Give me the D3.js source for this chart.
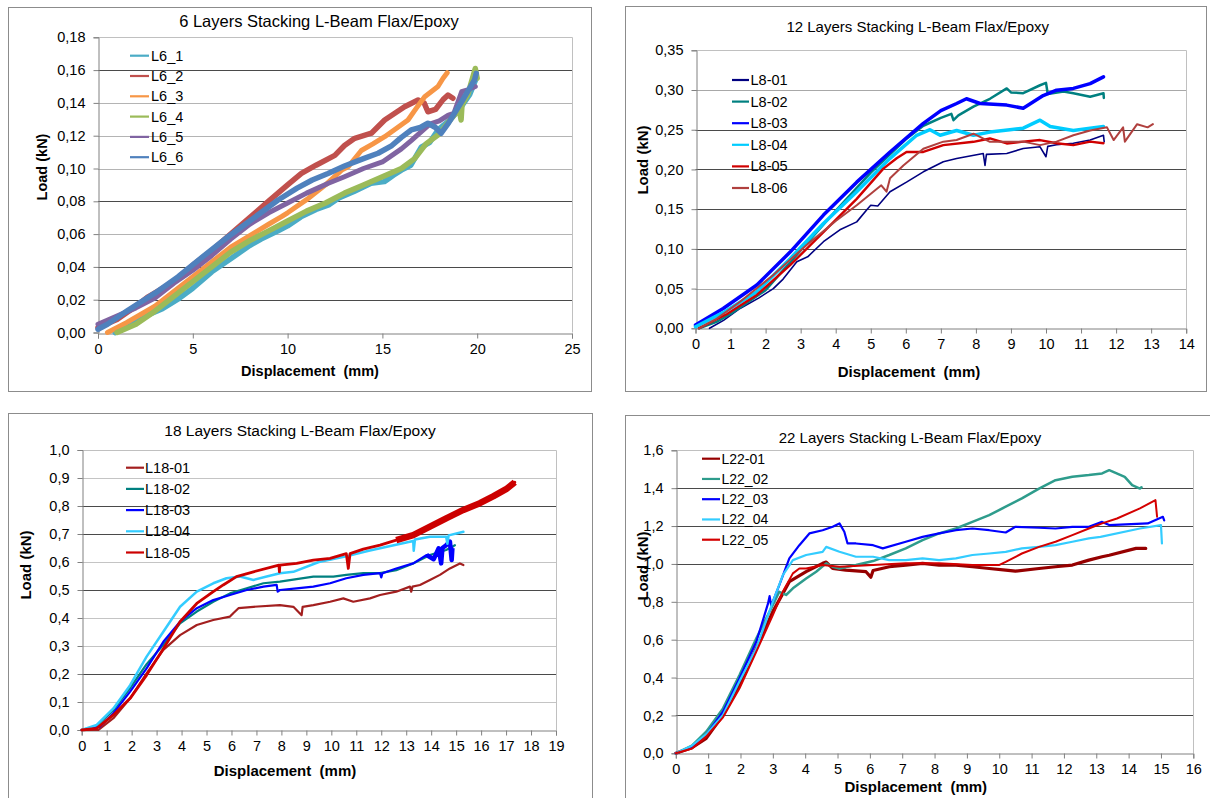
<!DOCTYPE html>
<html>
<head>
<meta charset="utf-8">
<script src="https://cdn.jsdelivr.net/npm/d3@7"></script>
<style>
  body { margin: 0; background: #fff; }
  svg { display: block; font-family: "Liberation Sans", Arial, sans-serif; }
</style>
</head>
<body>
<svg id="chart" width="1210" height="798"></svg>
<script>
// ---- 6 layers: displacement (mm), load (kN) ----
const L6_1 = [[0.9,0],[1.5,0.004],[2.5,0.01],[3.4,0.0145],[4.3,0.021],[5,0.027],[6,0.037],[7,0.045],[8,0.053],[8.6,0.057],[9.5,0.062],[10,0.065],[10.7,0.0705],[11.5,0.075],[12.2,0.078],[12.7,0.082],[13.5,0.086],[14.4,0.091],[15.1,0.092],[15.6,0.096],[16,0.099],[16.5,0.102],[17.05,0.113],[17.5,0.116],[17.93,0.1235],[18.6,0.13],[19.16,0.1377],[19.6,0.145],[19.95,0.155]];
const L6_2 = [[0,0.003],[1,0.008],[2,0.016],[2.65,0.0218],[4,0.031],[5.1,0.042],[6,0.05],[7.04,0.0605],[8,0.07],[8.97,0.0798],[10,0.09],[10.73,0.097],[11.5,0.102],[12.49,0.108],[13,0.114],[13.54,0.1184],[14.42,0.1215],[15.12,0.1296],[16.17,0.1377],[16.88,0.1418],[17.2,0.14],[17.4,0.1346],[17.8,0.136],[18.2,0.142],[18.46,0.1448],[18.72,0.1428]];
const L6_3 = [[0.5,0],[1.5,0.006],[3,0.016],[5,0.034],[7,0.052],[9,0.066],[9.68,0.0706],[10,0.073],[11,0.081],[12,0.09],[12.85,0.099],[13.19,0.101],[13.89,0.111],[14.5,0.115],[15.12,0.1194],[15.8,0.125],[16.35,0.1296],[16.8,0.137],[17.23,0.1438],[17.93,0.15],[18.2,0.155],[18.42,0.1584]];
const L6_4 = [[1,0],[2,0.005],[3,0.013],[4,0.022],[5,0.031],[6,0.04],[7,0.049],[8,0.056],[9,0.062],[10,0.068],[11,0.074],[12,0.079],[13,0.085],[14,0.09],[15,0.095],[16,0.1],[16.7,0.106],[17.3,0.115],[18,0.121],[18.6,0.13],[19.05,0.136],[19.15,0.1296],[19.2,0.139],[19.5,0.145],[19.9,0.161],[20,0.155]];
const L6_5 = [[0,0.005],[1,0.01],[2,0.015],[3,0.021],[4,0.03],[5,0.038],[6,0.047],[7,0.057],[8,0.066],[9,0.073],[10,0.079],[11,0.085],[12.15,0.091],[13,0.095],[14,0.1],[15,0.104],[16,0.112],[16.52,0.117],[17.5,0.127],[18,0.129],[18.48,0.1326],[18.77,0.1336],[19.18,0.1468],[19.5,0.148],[19.9,0.15]];
const L6_6 = [[0,0.002],[0.5,0.005],[1.6,0.0137],[3,0.024],[4.23,0.034],[5.5,0.046],[6.86,0.0584],[8,0.068],[9.5,0.0808],[10.5,0.088],[11.3,0.093],[12.13,0.097],[13,0.1015],[14,0.106],[14.77,0.1093],[15.5,0.114],[16,0.119],[16.52,0.1235],[17,0.125],[17.4,0.1276],[17.8,0.125],[18.1,0.1215],[18.5,0.128],[18.8,0.1337],[19.3,0.143],[19.86,0.154],[19.95,0.158]];

// ---- 12 layers ----
const L8_01 = [[0.4,0],[0.8,0.01],[1.27,0.025],[1.8,0.038],[2.22,0.05],[2.5,0.062],[2.89,0.0838],[3.2,0.09],[3.65,0.109],[4.12,0.124],[4.6,0.134],[4.9,0.15],[5.0,0.155],[5.2,0.154],[5.55,0.172],[6.02,0.184],[6.5,0.197],[7.07,0.2096],[7.45,0.2138],[8.21,0.22],[8.26,0.205],[8.3,0.219],[8.88,0.22],[9.35,0.2264],[9.83,0.2285],[10.0,0.216],[10.05,0.229],[10.3,0.231],[10.78,0.233],[11.26,0.237],[11.64,0.243],[11.66,0.235]];
const L8_02 = [[0.1,0],[0.6,0.008],[1,0.018],[2,0.048],[3,0.098],[4,0.148],[5,0.196],[6,0.238],[6.5,0.255],[7.0,0.265],[7.3,0.27],[7.36,0.262],[7.5,0.268],[7.93,0.279],[8.4,0.289],[8.88,0.302],[9.0,0.297],[9.35,0.296],[9.83,0.306],[10.0,0.309],[10.05,0.295],[10.5,0.298],[10.78,0.296],[11.26,0.2915],[11.64,0.296],[11.65,0.29]];
const L8_03 = [[0,0.004],[0.79,0.025],[1.75,0.0545],[2.7,0.096],[3.65,0.1425],[4.6,0.184],[5.55,0.222],[6.5,0.258],[7.0,0.274],[7.45,0.283],[7.73,0.289],[8.12,0.283],[8.88,0.281],[9.35,0.277],[9.92,0.293],[10.3,0.2998],[10.78,0.302],[11.26,0.308],[11.64,0.3165]];
const L8_04 = [[0,0.002],[0.8,0.02],[1.75,0.046],[2.7,0.0877],[3.65,0.132],[4.6,0.172],[5.55,0.214],[6.31,0.243],[6.69,0.25],[6.98,0.243],[7.45,0.249],[7.93,0.243],[8.4,0.247],[8.97,0.25],[9.35,0.252],[9.83,0.262],[10.12,0.254],[10.78,0.249],[11.26,0.252],[11.64,0.254]];
const L8_05 = [[0.1,0],[0.9,0.018],[1.75,0.042],[2.7,0.0795],[3.65,0.121],[4.6,0.163],[5.36,0.201],[5.74,0.214],[6.02,0.222],[6.5,0.222],[7.07,0.2306],[7.93,0.2348],[8.4,0.239],[8.88,0.2327],[9.35,0.235],[9.83,0.237],[10.3,0.233],[10.78,0.2306],[11.26,0.235],[11.64,0.233]];
const L8_06 = [[0.1,0],[0.6,0.012],[1.27,0.0335],[2.22,0.067],[3.17,0.105],[4.0,0.135],[4.6,0.155],[5.3,0.18],[5.45,0.172],[5.55,0.189],[5.93,0.205],[6.5,0.226],[7.07,0.235],[7.45,0.237],[7.93,0.245],[8.4,0.2348],[9.35,0.235],[9.83,0.2306],[10.3,0.235],[10.78,0.243],[11.26,0.249],[11.74,0.253],[11.93,0.237],[12.2,0.253],[12.25,0.235],[12.6,0.257],[12.9,0.253],[13.05,0.257]];

// ---- 18 layers ----
const L18_01 = [[0,0],[0.67,0],[1.27,0.042],[1.94,0.113],[2.6,0.202],[3.27,0.286],[3.94,0.339],[4.61,0.375],[5.27,0.393],[5.94,0.405],[6.07,0.417],[6.28,0.435],[6.88,0.44],[7.94,0.446],[8.48,0.44],[8.81,0.41],[8.85,0.44],[9.28,0.446],[9.95,0.458],[10.48,0.47],[10.88,0.458],[11.55,0.47],[11.95,0.482],[12.6,0.494],[13.15,0.512],[13.2,0.494],[13.25,0.512],[13.55,0.518],[13.95,0.536],[14.35,0.554],[14.75,0.577],[15.15,0.595],[15.29,0.589]];
const L18_02 = [[0,0],[0.6,0.015],[1.27,0.071],[1.94,0.15],[2.6,0.235],[3.27,0.304],[3.94,0.381],[4.61,0.423],[5.27,0.458],[5.94,0.488],[6.61,0.506],[7.28,0.524],[7.94,0.53],[8.61,0.539],[9.28,0.548],[10.08,0.548],[10.6,0.554],[11.28,0.56],[11.95,0.56],[12.6,0.571],[13.28,0.595],[13.95,0.625],[14.6,0.643],[14.95,0.66]];
const L18_03 = [[0,0],[0.73,0.012],[1.27,0.06],[1.94,0.137],[2.6,0.22],[3.27,0.315],[3.94,0.387],[4.61,0.435],[5.27,0.464],[5.94,0.482],[6.61,0.5],[7.28,0.512],[7.81,0.518],[7.85,0.494],[7.94,0.5],[8.61,0.506],[9.28,0.512],[9.95,0.524],[10.6,0.542],[11.28,0.554],[11.95,0.56],[12.0,0.545],[12.05,0.56],[12.6,0.577],[13.28,0.595],[13.82,0.625],[14.1,0.61],[14.3,0.649],[14.4,0.595],[14.45,0.65],[14.6,0.66],[14.75,0.673],[14.82,0.607],[14.85,0.65]];
const L18_04 = [[0,0],[0.6,0.018],[1.27,0.077],[1.94,0.16],[2.6,0.262],[3.27,0.351],[3.94,0.44],[4.61,0.494],[5.27,0.524],[5.8,0.542],[6.34,0.548],[6.88,0.536],[7.41,0.548],[7.94,0.56],[8.48,0.565],[9.5,0.6],[10.6,0.62],[11.5,0.64],[12.5,0.66],[13.28,0.675],[13.3,0.64],[13.35,0.68],[13.95,0.69],[14.6,0.69],[14.65,0.665],[14.7,0.695],[15.29,0.708]];
const L18_05 = [[0,0],[0.6,0.006],[1.27,0.054],[1.94,0.113],[2.6,0.196],[3.27,0.29],[3.94,0.387],[4.61,0.452],[5.27,0.494],[5.67,0.518],[6.2,0.548],[6.88,0.565],[7.9,0.589],[7.92,0.565],[7.94,0.589],[8.61,0.595],[9.28,0.607],[9.95,0.613],[10.6,0.63],[10.68,0.577],[10.75,0.63],[11.28,0.646],[11.95,0.66],[12.6,0.678],[13.28,0.696],[13.95,0.726],[14.6,0.756],[15.29,0.786],[15.95,0.81],[16.5,0.835],[17.0,0.86],[17.35,0.885]];

// ---- 22 layers ----
const L22_01 = [[0,0],[0.5,0.03],[0.94,0.079],[1.46,0.202],[2.0,0.37],[2.49,0.554],[3.0,0.748],[3.51,0.906],[4.03,0.959],[4.54,1.003],[4.65,1.01],[4.85,0.976],[5.26,0.967],[5.88,0.959],[6.03,0.93],[6.1,0.965],[6.6,0.985],[7.11,0.994],[7.63,1.003],[8.14,0.994],[8.66,0.994],[9.17,0.985],[9.69,0.976],[10.2,0.967],[10.5,0.962],[11.23,0.976],[11.74,0.985],[12.26,0.994],[12.77,1.02],[13.18,1.038],[13.4,1.046],[14.23,1.082],[14.53,1.082]];
const L22_02 = [[0,0],[0.5,0.04],[0.94,0.114],[1.46,0.237],[1.97,0.413],[2.49,0.607],[3.0,0.783],[3.2,0.853],[3.41,0.836],[3.62,0.871],[4.03,0.923],[4.34,0.959],[4.65,1.003],[4.85,0.985],[5.06,0.976],[5.57,0.994],[6.1,1.015],[6.6,1.047],[7.11,1.082],[7.63,1.126],[8.14,1.161],[8.66,1.187],[9.17,1.222],[9.69,1.258],[10.2,1.302],[10.7,1.346],[11.23,1.398],[11.74,1.442],[12.26,1.46],[12.77,1.469],[13.18,1.478],[13.4,1.495],[13.88,1.46],[14.11,1.416],[14.35,1.398],[14.4,1.405]];
const L22_03 = [[0,0],[0.53,0.035],[0.94,0.097],[1.46,0.22],[1.97,0.396],[2.49,0.589],[2.85,0.79],[2.9,0.83],[2.95,0.78],[3.2,0.888],[3.51,1.029],[3.82,1.099],[4.13,1.161],[4.54,1.178],[4.85,1.196],[5.06,1.214],[5.21,1.17],[5.31,1.108],[5.57,1.108],[6.1,1.099],[6.4,1.082],[7.11,1.117],[7.63,1.143],[8.14,1.161],[8.66,1.178],[9.17,1.187],[9.69,1.178],[10.2,1.166],[10.5,1.196],[11.23,1.191],[11.74,1.187],[12.26,1.196],[12.77,1.196],[13.18,1.222],[13.4,1.205],[14.59,1.214],[15.06,1.249],[15.1,1.23]];
const L22_04 = [[0,0],[0.5,0.04],[0.94,0.1],[1.46,0.202],[1.97,0.38],[2.49,0.554],[3.0,0.8],[3.31,0.941],[3.62,1.02],[4.03,1.047],[4.54,1.064],[4.65,1.09],[5.06,1.064],[5.57,1.038],[6.1,1.038],[6.6,1.02],[7.11,1.02],[7.63,1.029],[8.14,1.02],[8.66,1.029],[9.17,1.047],[9.69,1.055],[10.2,1.064],[10.7,1.082],[11.23,1.09],[11.74,1.099],[12.26,1.117],[12.77,1.135],[13.13,1.143],[14.35,1.187],[15.0,1.205],[15.03,1.108]];
const L22_05 = [[0,0],[0.5,0.025],[0.94,0.088],[1.46,0.19],[1.97,0.343],[2.49,0.537],[3.0,0.73],[3.3,0.85],[3.62,0.95],[3.82,0.976],[4.03,0.976],[4.54,0.994],[5.06,0.985],[6.1,0.994],[7.11,1.003],[8.14,1.003],[9.17,0.994],[9.99,0.994],[10.2,1.011],[10.7,1.055],[11.23,1.09],[11.74,1.117],[12.26,1.152],[12.77,1.187],[13.18,1.214],[13.64,1.24],[14.35,1.293],[14.83,1.337],[14.88,1.249]];

const titles = [
  '6 Layers Stacking L-Beam Flax/Epoxy',
  '12 Layers Stacking L-Beam Flax/Epoxy',
  '18 Layers Stacking L-Beam Flax/Epoxy',
  '22 Layers Stacking L-Beam Flax/Epoxy'
];
const labels6 = ['L6_1', 'L6_2', 'L6_3', 'L6_4', 'L6_5', 'L6_6'];
const labels12 = ['L8-01', 'L8-02', 'L8-03', 'L8-04', 'L8-05', 'L8-06'];
const labels18 = ['L18-01', 'L18-02', 'L18-03', 'L18-04', 'L18-05'];
const labels22 = ['L22-01', 'L22_02', 'L22_03', 'L22_04', 'L22_05'];

// layout + style per panel
// band: [from x, width] -> thicker overlay where the raw signal is very noisy
const panels = [
  {
    title: titles[0], frame: [8, 7, 583, 384],
    plot: { l: 98, r: 572, t: 37.3, b: 332.5 },
    xMax: 25, xStep: 5, yMax: 0.18, yStep: 0.02, yDec: 2,
    gridDark: [0.02, 0.04, 0.08, 0.16], gridLight: '#b4b4b4',
    titlePos: [319, 21], titleSize: 16.5, tickSize: 14.5, labelSize: 14.5,
    yLabelPos: [42, 167], xLabelPos: [310, 371],
    legend: { x0: 130, x1: 149, tx: 151, y: 55.7, dy: 20.3, size: 14.5 },
    labels: labels6, data: [L6_1, L6_2, L6_3, L6_4, L6_5, L6_6],
    colors: ['#4BACC6', '#C0504D', '#F79646', '#9BBB59', '#8064A2', '#4F81BD'],
    widths: [5.5, 5.5, 5, 5.5, 5, 5.5],
    bands: []
  },
  {
    title: titles[1], frame: [625, 6, 581, 385],
    plot: { l: 695.5, r: 1186.2, t: 50.3, b: 328.3 },
    xMax: 14, xStep: 1, yMax: 0.35, yStep: 0.05, yDec: 2,
    gridDark: [0.1, 0.15, 0.2, 0.25], gridLight: '#a8a8a8',
    titlePos: [917.7, 26.7], titleSize: 15, tickSize: 14.5, labelSize: 15,
    yLabelPos: [642.7, 160], xLabelPos: [909, 371],
    legend: { x0: 732, x1: 749, tx: 750.5, y: 80, dy: 21.6, size: 14.5 },
    labels: labels12, data: [L8_01, L8_02, L8_03, L8_04, L8_05, L8_06],
    colors: ['#000080', '#008080', '#0000FF', '#00CCFF', '#D00000', '#B0403E'],
    widths: [1.6, 2.5, 3.5, 3.5, 2.4, 2],
    bands: []
  },
  {
    title: titles[2], frame: [8, 413.3, 584, 400],
    plot: { l: 81.7, r: 556, t: 450, b: 730 },
    xMax: 19, xStep: 1, yMax: 1.0, yStep: 0.1, yDec: 1,
    gridDark: [0.2, 0.5, 0.7, 0.8], gridLight: '#c4c4c4',
    titlePos: [300, 430], titleSize: 15.5, tickSize: 14.5, labelSize: 15,
    yLabelPos: [25, 565], xLabelPos: [285, 770],
    legend: { x0: 126, x1: 144, tx: 145, y: 467.7, dy: 21.2, size: 14.5 },
    labels: labels18, data: [L18_01, L18_02, L18_03, L18_04, L18_05],
    colors: ['#A31F1F', '#008080', '#0000FF', '#33CCFF', '#CC0000'],
    widths: [2.2, 2.2, 2.2, 2.5, 2.8],
    bands: [null, null, [13.8, 4.5], null, [12.6, 6.5]]
  },
  {
    title: titles[3], frame: [624.6, 415, 620, 400],
    plot: { l: 675.8, r: 1193.3, t: 450.3, b: 753.3 },
    xMax: 16, xStep: 1, yMax: 1.6, yStep: 0.2, yDec: 1,
    gridDark: [0.2, 1.0, 1.2, 1.4], gridLight: '#b8b8b8',
    titlePos: [910, 437.3], titleSize: 15, tickSize: 14.5, labelSize: 15,
    yLabelPos: [642.7, 566], xLabelPos: [915.8, 786.7],
    legend: { x0: 702, x1: 720, tx: 721.5, y: 458.7, dy: 20.25, size: 14 },
    labels: labels22, data: [L22_01, L22_02, L22_03, L22_04, L22_05],
    colors: ['#960000', '#2E9C8C', '#0000FF', '#33CCFF', '#D40000'],
    widths: [3.2, 2.5, 2.2, 2.2, 2],
    bands: []
  }
];

const svg = d3.select('#chart');
const crisp = v => Math.round(v) + 0.5;

panels.forEach((p, pi) => {
  const g = svg.append('g').attr('class', `panel panel${pi}`);

  // outer chart frame
  g.append('rect')
    .attr('x', crisp(p.frame[0]))
    .attr('y', crisp(p.frame[1]))
    .attr('width', p.frame[2])
    .attr('height', p.frame[3])
    .attr('fill', '#fff')
    .attr('stroke', '#8c8c8c')
    .attr('stroke-width', 1);

  const x = d3.scaleLinear().domain([0, p.xMax]).range([p.plot.l, p.plot.r]);
  const y = d3.scaleLinear().domain([0, p.yMax]).range([p.plot.b, p.plot.t]);

  const nY = Math.round(p.yMax / p.yStep);
  const yTicks = d3.range(0, nY + 1).map(i => +(i * p.yStep).toFixed(4));
  const nX = Math.round(p.xMax / p.xStep);
  const xTicks = d3.range(0, nX + 1).map(i => i * p.xStep);

  // horizontal gridlines
  g.selectAll('.grid')
    .data(yTicks.slice(1, -1))
    .enter()
    .append('line')
    .attr('class', 'grid')
    .attr('x1', p.plot.l)
    .attr('x2', p.plot.r)
    .attr('y1', d => crisp(y(d)))
    .attr('y2', d => crisp(y(d)))
    .attr('stroke', d => p.gridDark.some(v => Math.abs(v - d) < 1e-6) ? '#4a4a4a' : p.gridLight)
    .attr('stroke-width', 1);

  // plot area top / right border
  g.append('path')
    .attr('d', `M${p.plot.l},${crisp(y(p.yMax))}H${crisp(x(p.xMax))}V${p.plot.b}`)
    .attr('fill', 'none')
    .attr('stroke', '#c0c0c0');

  // axes
  const yAxis = d3.axisLeft(y)
    .tickValues(yTicks)
    .tickFormat(d => d.toFixed(p.yDec).replace('.', ','))
    .tickSize(5)
    .tickPadding(8);
  const xAxis = d3.axisBottom(x)
    .tickValues(xTicks)
    .tickFormat(d => String(d))
    .tickSize(5)
    .tickPadding(5);

  const ya = g.append('g')
    .attr('transform', `translate(${crisp(p.plot.l)},0)`)
    .call(yAxis);
  const xa = g.append('g')
    .attr('transform', `translate(0,${crisp(p.plot.b)})`)
    .call(xAxis);
  [ya, xa].forEach(a => {
    a.select('.domain').attr('stroke', '#808080');
    a.selectAll('.tick line').attr('stroke', '#808080');
    a.selectAll('.tick text')
      .attr('fill', '#000')
      .style('font-family', '"Liberation Sans", Arial, sans-serif')
      .style('font-size', `${p.tickSize}px`);
  });

  // data series, drawn in legend order
  const line = d3.line()
    .curve(d3.curveLinear)
    .x(d => x(d[0]))
    .y(d => y(d[1]));

  p.data.forEach((series, i) => {
    g.append('path')
      .datum(series)
      .attr('class', 'series')
      .attr('d', line)
      .attr('fill', 'none')
      .attr('stroke', p.colors[i])
      .attr('stroke-width', p.widths[i])
      .attr('stroke-linejoin', 'round')
      .attr('stroke-linecap', 'round');

    const band = p.bands[i];
    if (band) {
      g.append('path')
        .datum(series.filter(d => d[0] >= band[0]))
        .attr('class', 'series band')
        .attr('d', line)
        .attr('fill', 'none')
        .attr('stroke', p.colors[i])
        .attr('stroke-width', band[1])
        .attr('stroke-linejoin', 'round')
        .attr('stroke-linecap', 'butt');
    }
  });

  // legend
  const lg = g.append('g').attr('class', 'legend');
  p.labels.forEach((name, i) => {
    const ly = p.legend.y + i * p.legend.dy;
    lg.append('line')
      .attr('x1', p.legend.x0)
      .attr('x2', p.legend.x1)
      .attr('y1', ly)
      .attr('y2', ly)
      .attr('stroke', p.colors[i])
      .attr('stroke-width', 2.2);
    lg.append('text')
      .attr('x', p.legend.tx)
      .attr('y', ly)
      .attr('dominant-baseline', 'central')
      .style('font-size', `${p.legend.size}px`)
      .text(name);
  });

  // title + axis titles
  g.append('text')
    .attr('x', p.titlePos[0])
    .attr('y', p.titlePos[1])
    .attr('text-anchor', 'middle')
    .attr('dominant-baseline', 'central')
    .style('font-size', `${p.titleSize}px`)
    .text(p.title);

  g.append('text')
    .attr('transform', `translate(${p.yLabelPos[0]},${p.yLabelPos[1]}) rotate(-90)`)
    .attr('text-anchor', 'middle')
    .attr('dominant-baseline', 'central')
    .style('font-size', `${p.labelSize}px`)
    .style('font-weight', 'bold')
    .text('Load (kN)');

  g.append('text')
    .attr('x', p.xLabelPos[0])
    .attr('y', p.xLabelPos[1])
    .attr('text-anchor', 'middle')
    .attr('dominant-baseline', 'central')
    .style('font-size', `${p.labelSize}px`)
    .style('font-weight', 'bold')
    .style('white-space', 'pre')
    .text('Displacement  (mm)');
});
</script>
</body>
</html>
